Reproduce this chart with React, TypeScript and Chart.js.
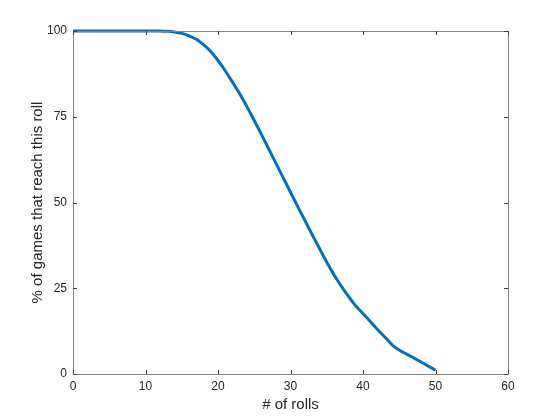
import React, { useEffect, useRef } from "react";
import { Chart, registerables } from "chart.js";

Chart.register(...registerables);

const rolls: number[] = Array.from({ length: 51 }, (_, i) => i);
const pctReached: number[] = [
  100, 100, 100, 100, 100, 100, 100, 100, 100, 100,
  100, 100, 100, 99.9, 99.7, 99.3, 98.6, 97.6, 96.0, 94.0,
  91.4, 88.4, 85.1, 81.7, 77.9, 73.9, 69.8, 65.6, 61.4, 57.2,
  53.0, 48.8, 44.7, 40.6, 36.6, 32.6, 28.9, 25.6, 22.6, 19.8,
  17.6, 15.3, 13.0, 10.8, 8.5, 7.0, 5.8, 4.7, 3.5, 2.3,
  1.1,
];
const xTicks: number[] = [0, 10, 20, 30, 40, 50, 60];
const yTicks: number[] = [0, 25, 50, 75, 100];

const FONT = "'Liberation Sans', Arial, Helvetica, sans-serif";
const AXIS_COLOR = "#858585";
const TEXT_COLOR = "#262626";

const boxPlugin = {
  id: "matlabBox",
  afterDraw(chart: any) {
    const { ctx, chartArea } = chart;
    const { left, right, top, bottom } = chartArea;
    const xs = chart.scales.x;
    const ys = chart.scales.y;
    ctx.save();
    ctx.strokeStyle = AXIS_COLOR;
    ctx.lineWidth = 1;
    ctx.beginPath();
    ctx.rect(Math.round(left) + 0.5, Math.round(top) + 0.5, Math.round(right - left), Math.round(bottom - top));
    ctx.stroke();
    ctx.strokeStyle = "#444";
    const tl = 4;
    ctx.beginPath();
    xTicks.forEach((v) => {
      const px = Math.round(xs.getPixelForValue(v)) + 0.5;
      ctx.moveTo(px, bottom);
      ctx.lineTo(px, bottom - tl);
      ctx.moveTo(px, top);
      ctx.lineTo(px, top + tl);
    });
    yTicks.forEach((v) => {
      const py = Math.round(ys.getPixelForValue(v)) + 0.5;
      ctx.moveTo(left, py);
      ctx.lineTo(left + tl, py);
      ctx.moveTo(right, py);
      ctx.lineTo(right - tl, py);
    });
    ctx.stroke();
    ctx.restore();
  },
};

export default function App() {
  const ref = useRef<HTMLCanvasElement | null>(null);
  useEffect(() => {
    if (!ref.current) return;
    const chart = new Chart(ref.current, {
      type: "line",
      data: {
        labels: rolls,
        datasets: [
          {
            data: rolls.map((x, i) => ({ x, y: pctReached[i] })),
            borderColor: "#0072BD",
            borderWidth: 3,
            pointRadius: 0,
            tension: 0.1,
            fill: false,
            clip: false as any,
          },
        ],
      },
      options: {
        animation: false,
        responsive: false,
        maintainAspectRatio: false,
        layout: { padding: { left: 29, right: 52, top: 31, bottom: 0 } },
        plugins: { legend: { display: false }, tooltip: { enabled: false } },
        scales: {
          x: {
            type: "linear",
            min: 0,
            max: 60,
            afterBuildTicks: (s: any) => {
              s.ticks = xTicks.map((v) => ({ value: v }));
            },
            afterFit: (s: any) => {
              s.height = 46;
            },
            grid: { display: false },
            border: { display: false },
            ticks: { color: TEXT_COLOR, font: { family: FONT, size: 12 }, padding: -3, maxRotation: 0 },
            title: {
              display: true,
              text: "# of rolls",
              color: TEXT_COLOR,
              font: { family: FONT, size: 15 },
              padding: { top: 0, bottom: 6 },
            },
          },
          y: {
            type: "linear",
            min: 0,
            max: 100,
            afterBuildTicks: (s: any) => {
              s.ticks = yTicks.map((v) => ({ value: v }));
            },
            afterFit: (s: any) => {
              s.width = 44;
            },
            grid: { display: false },
            border: { display: false },
            ticks: { color: TEXT_COLOR, font: { family: FONT, size: 12 }, padding: -2 },
            title: {
              display: true,
              text: "% of games that reach this roll",
              color: TEXT_COLOR,
              font: { family: FONT, size: 15 },
              padding: { top: 0, bottom: 0 },
            },
          },
        },
      },
      plugins: [boxPlugin],
    });
    return () => chart.destroy();
  }, []);
  return (
    <div style={{ position: "fixed", left: 0, top: 0, width: 560, height: 420, background: "#fff" }}>
      <canvas ref={ref} width={560} height={420} style={{ display: "block" }} />
    </div>
  );
}
